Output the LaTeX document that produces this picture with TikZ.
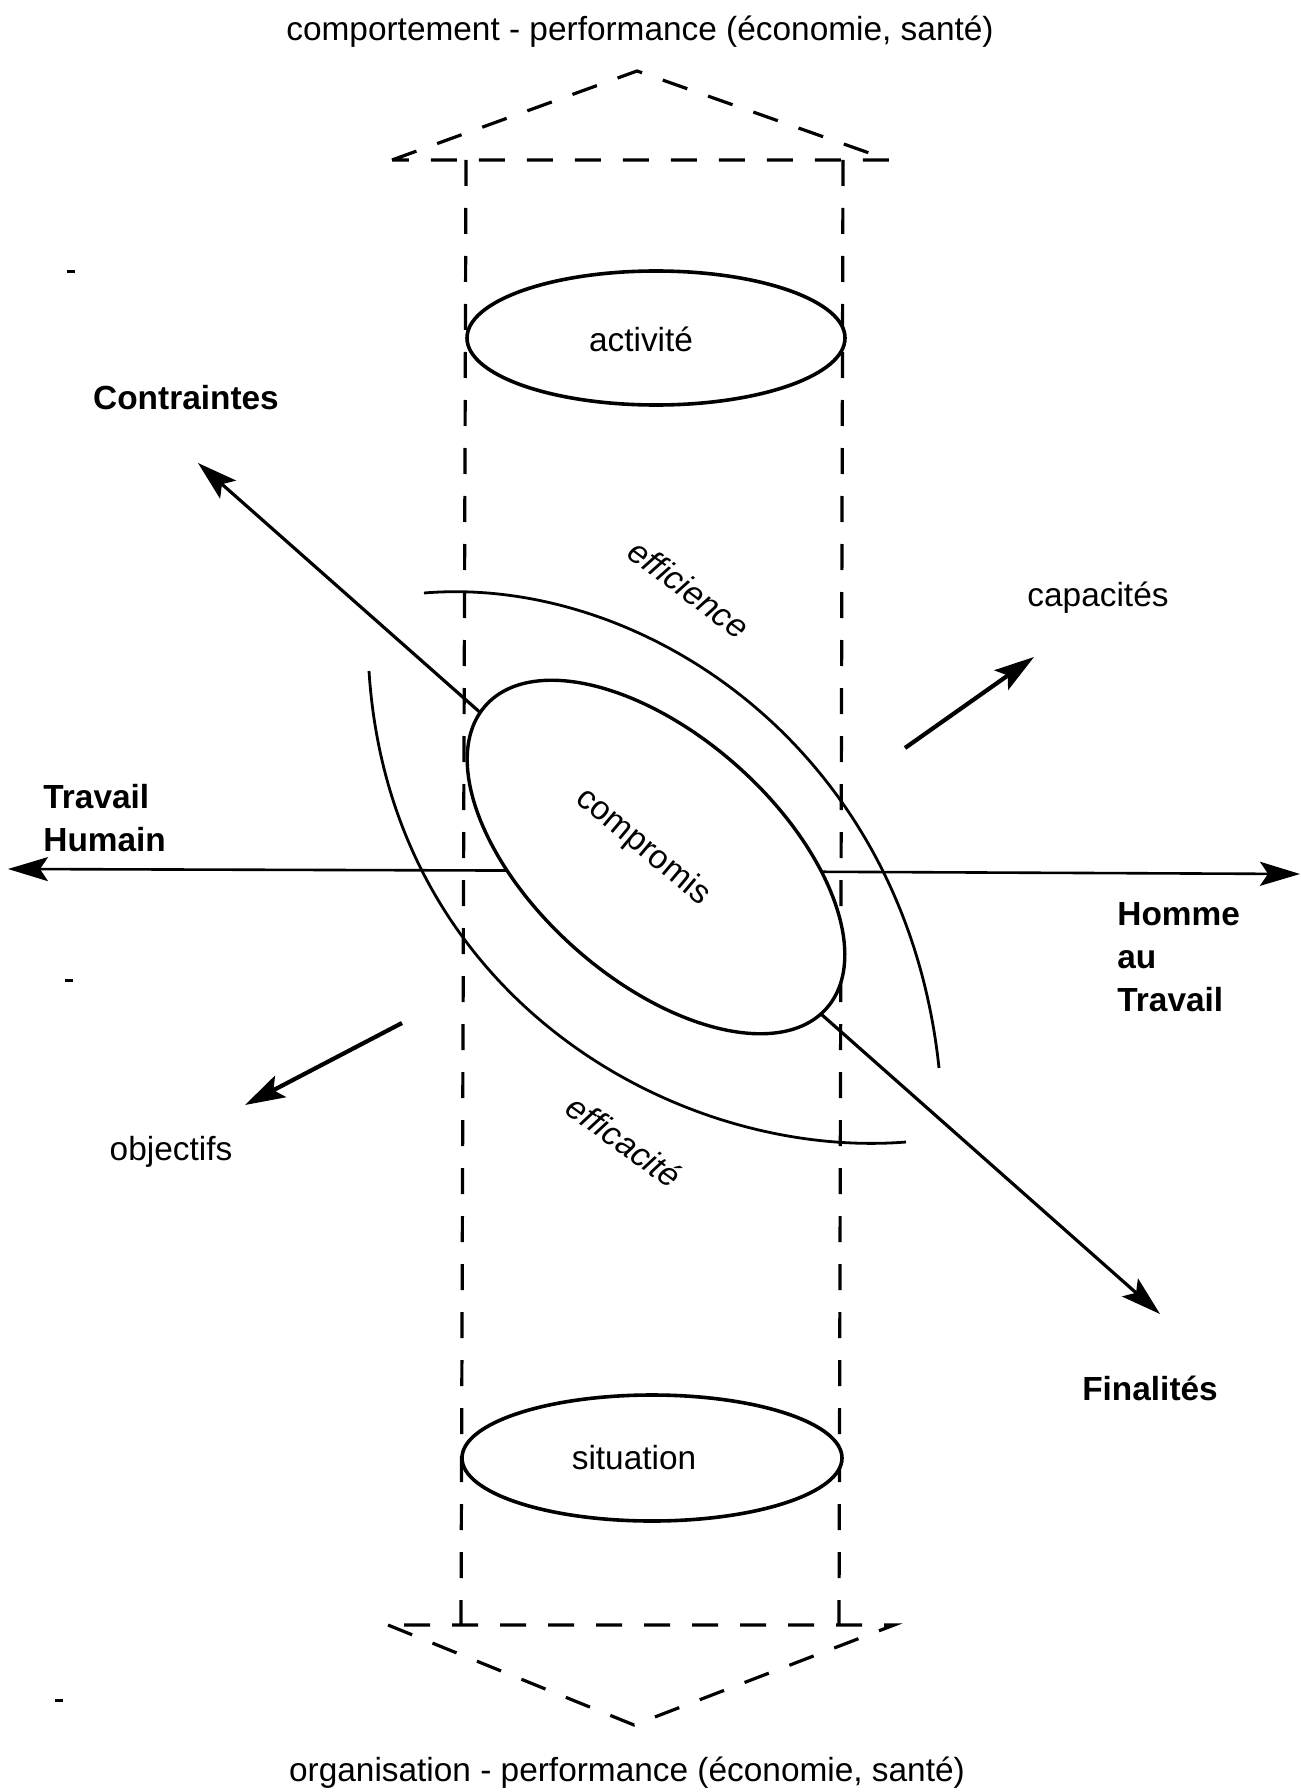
\documentclass[tikz,border=0pt]{standalone}
\usepackage{fontspec}
\setmainfont{Liberation Sans}
\usetikzlibrary{shapes.geometric,arrows.meta}
\begin{document}
\begin{tikzpicture}[x=0.5pt,y=-0.5pt,
  dsh/.style={line width=1.6pt,dash pattern=on 13pt off 11pt},
  oval/.style={ellipse,draw,line width=1.8pt,fill=white,inner sep=0pt},
  lbl/.style={font=\fontsize{16.7}{21}\selectfont,inner sep=0pt},
  blbl/.style={font=\fontsize{16.7}{21.5}\selectfont\bfseries,inner sep=0pt},
  ilbl/.style={font=\fontsize{16.7}{21}\selectfont\itshape,inner sep=0pt},
  arr/.style={line width=1.6pt,-{Stealth[length=20pt,width=12pt,inset=4pt]}},
  bow/.style={line width=1.4pt}]
\useasboundingbox (0,0) rectangle (1300,1792);

% frame of the column
\coordinate (TL) at (392,160); \coordinate (TA) at (637,71); \coordinate (TR) at (889,160);
\coordinate (BL) at (388,1625); \coordinate (BA) at (634,1725); \coordinate (BR) at (894,1625);
\coordinate (VL1) at (466,160); \coordinate (VL2) at (461,1625);
\coordinate (VR1) at (843,160); \coordinate (VR2) at (839,1625);
\draw[dsh] (TL) -- (TA) -- (TR) -- cycle;
\draw[dsh] (BL) -- (BA) -- (BR) -- cycle;
\draw[dsh] (VL1) -- (VL2);
\draw[dsh] (VR1) -- (VR2);

% arcs
\coordinate (e0) at (424,593); \coordinate (e1) at (939,1068);
\coordinate (f0) at (369,671); \coordinate (f1) at (906,1142);
\draw[bow] (e0) .. controls (640,575) and (905,745) .. (e1);
\draw[bow] (f0) .. controls (390,1000) and (680,1160) .. (f1);

% axes
\coordinate (hc) at (656,871); \coordinate (wl) at (8,869); \coordinate (wr) at (1300,874);
\draw[arr,line width=1.3pt] (hc) -- (wl);
\draw[arr,line width=1.3pt] (hc) -- (wr);
\coordinate (dc) at (656,868); \coordinate (ct) at (198,463); \coordinate (ft) at (1160,1314);
\draw[arr] (dc) -- (ct);
\draw[arr] (dc) -- (ft);
\coordinate (cap0) at (905,748); \coordinate (cap1) at (1034,657);
\coordinate (obj0) at (402,1023); \coordinate (obj1) at (245,1105);
\draw[arr,line width=2.1pt] (cap0) -- (cap1);
\draw[arr,line width=2.1pt] (obj0) -- (obj1);

% ellipses
\node[oval,minimum width=189pt,minimum height=67pt] (act) at (656,338) {};
\node[oval,minimum width=190pt,minimum height=63pt] (sit) at (652,1458) {};
\node[oval,minimum width=228pt,minimum height=122pt,rotate=-41.6,line width=1.7pt] (comp) at (656,857) {};

% texts
\node[lbl] (acttxt) at (641,339) {activité};
\node[lbl] (sittxt) at (634,1458) {situation};
\node[lbl,rotate=-40] (comptxt) at (643,847) {compromis};
\node[ilbl,rotate=-37] (effi) at (689,589) {efficience};
\node[ilbl,rotate=-36] (effa) at (624,1141) {efficacité};
\node[lbl] (top) at (640,32) {comportement - performance (économie, santé)};
\node[lbl] (bot) at (627,1773) {organisation - performance (économie, santé)};
\node[blbl] (contr) at (186,398) {Contraintes};
\node[blbl,align=left,anchor=west] (th) at (43,818) {Travail\\Humain};
\node[blbl,align=left,anchor=west] (hat) at (1117,957) {Homme\\au\\Travail};
\node[blbl] (fin) at (1150,1388) {Finalités};
\node[lbl] (capa) at (1098,598) {capacités};
\node[lbl] (obje) at (171,1152) {objectifs};

% small marks in the margin
\draw[line width=1.5pt] (67,272) -- (75,272);
\draw[line width=1.5pt] (65,980) -- (73,980);
\draw[line width=1.5pt] (55,1700) -- (63,1700);
\end{tikzpicture}
\end{document}
